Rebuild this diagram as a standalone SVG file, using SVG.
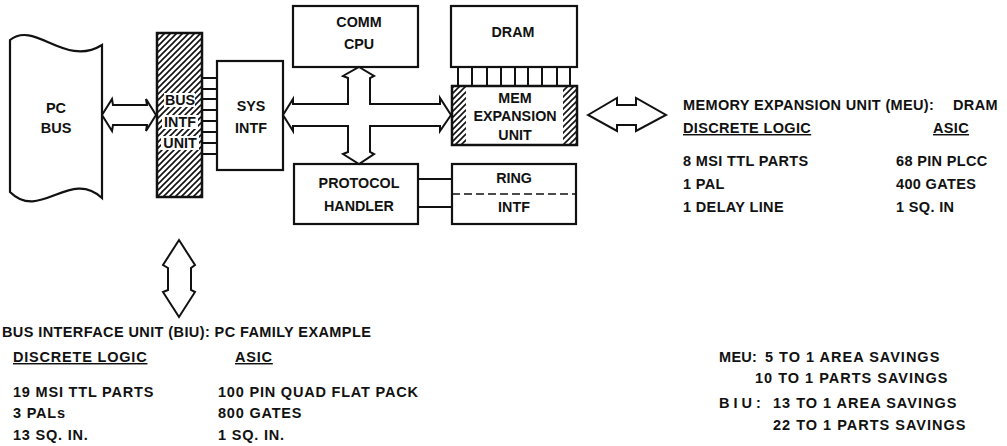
<svg xmlns="http://www.w3.org/2000/svg" width="1007" height="446" viewBox="0 0 1007 446">
<style>
  .t{font-family:"Liberation Sans",Arial,sans-serif;font-weight:bold;font-size:14.5px;fill:#111}
  .c{text-anchor:middle}
  .s{font-size:14.3px}
  .box{fill:#fff;stroke:#111;stroke-width:2.2}
  .ln{stroke:#111;stroke-width:2;fill:none}
  .ar{fill:#fff;stroke:#111;stroke-width:2;stroke-linejoin:miter}
  .u{text-decoration:underline}
  #meu-text text{letter-spacing:0.35px}
  #biu-text text{letter-spacing:0.8px}
  #savings text{letter-spacing:1px}
</style>
<defs>
  <pattern id="hatch" patternUnits="userSpaceOnUse" width="6" height="6">
    <path d="M-1,7 L7,-1 M-2,2 L2,-2 M4,8 L8,4" stroke="#111" stroke-width="1.6"/>
  </pattern>
</defs>
<rect width="1007" height="446" fill="#fff"/>

<g id="pcbus">
  <path class="box" d="M10,40 C35,20 65,68 102,45 L102,198 C70,168 40,222 10,192 Z"/>
  <text class="t c" x="56" y="113">PC</text>
  <text class="t c" x="56" y="133">BUS</text>
</g>

<g id="biu">
  <rect x="157" y="33" width="45" height="164" fill="url(#hatch)" stroke="#111" stroke-width="2.5"/>
  <rect x="164" y="93" width="31" height="14" fill="#fff"/>
  <rect x="162" y="115" width="36" height="14" fill="#fff"/>
  <rect x="161" y="136" width="38" height="14" fill="#fff"/>
  <text class="t c s" x="180" y="105">BUS</text>
  <text class="t c s" x="180" y="127">INTF</text>
  <text class="t c s" x="180" y="148">UNIT</text>
</g>

<g id="sysintf">
  <rect class="box" x="217" y="61" width="66" height="109"/>
  <text class="t c s" x="251" y="111">SYS</text>
  <text class="t c s" x="251" y="133">INTF</text>
</g>

<g id="commcpu">
  <rect class="box" x="293" y="6" width="125" height="61"/>
  <text class="t c s" x="359" y="27">COMM</text>
  <text class="t c s" x="359" y="49">CPU</text>
</g>

<g id="dram">
  <rect class="box" x="451" y="6" width="126" height="61"/>
  <text class="t c s" x="513" y="37">DRAM</text>
</g>

<g id="meu">
  <rect x="452" y="86" width="125" height="59" fill="#fff"/>
  <rect x="452" y="86" width="14" height="59" fill="url(#hatch)"/>
  <rect x="563" y="86" width="14" height="59" fill="url(#hatch)"/>
  <rect x="452" y="86" width="125" height="59" fill="none" stroke="#111" stroke-width="2.5"/>
  <text class="t c s" x="515" y="103">MEM</text>
  <text class="t c s" x="515" y="121">EXPANSION</text>
  <text class="t c s" x="515" y="140">UNIT</text>
</g>

<g id="protocol">
  <rect class="box" x="294" y="164" width="124" height="60"/>
  <text class="t c s" x="359" y="188">PROTOCOL</text>
  <text class="t c s" x="359" y="211">HANDLER</text>
</g>

<g id="ringintf">
  <rect class="box" x="452" y="164" width="124" height="60"/>
  <line x1="452" y1="194" x2="576" y2="194" stroke="#111" stroke-width="1.6" stroke-dasharray="8 4"/>
  <text class="t c s" x="514" y="183">RING</text>
  <text class="t c s" x="514" y="212">INTF</text>
</g>

<g id="connectors">
  <path class="ln" d="M202,78H217M202,89H217M202,99H217M202,110H217M202,121H217M202,132H217M202,143H217M202,154H217"/>
  <path class="ln" d="M458,67V86M472,67V86M487,67V86M501,67V86M515,67V86M528,67V86M542,67V86M557,67V86M570,67V86"/>
  <path class="ln" d="M418,179H452M418,207H452"/>
  <polygon class="ar" points="102,115 112,99 113,105 147,105 146,99 156,115 146,131 147,125 113,125 112,131"/>
  <polygon class="ar" points="359,67 374,76 370,78 370,104 440,104 440,98 451,115 440,131 440,126 370,126 370,152 374,154 359,164 343,154 348,152 348,126 293,126 293,131 283,115 293,99 293,104 348,104 348,78 343,76"/>
  <polygon class="ar" points="588,115 617,98 617,105 636,105 636,98 666,115 636,131 636,125 617,125 617,131"/>
  <polygon class="ar" points="179,240 195,265 191,268 191,290 195,292 179,317 163,292 168,290 168,268 163,265"/>
</g>

<g id="meu-text">
  <text class="t" x="683" y="110">MEMORY EXPANSION UNIT (MEU):</text>
  <text class="t" x="953" y="110">DRAM</text>
  <text class="t u" x="683" y="133">DISCRETE LOGIC</text>
  <text class="t u" x="933" y="133">ASIC</text>
  <text class="t" x="683" y="166">8 MSI TTL PARTS</text>
  <text class="t" x="683" y="189">1 PAL</text>
  <text class="t" x="683" y="212">1 DELAY LINE</text>
  <text class="t" x="896" y="166">68 PIN PLCC</text>
  <text class="t" x="896" y="189">400 GATES</text>
  <text class="t" x="896" y="212">1 SQ. IN</text>
</g>

<g id="biu-text">
  <text class="t" x="2" y="337" style="letter-spacing:0.4px">BUS INTERFACE UNIT (BIU): PC FAMILY EXAMPLE</text>
  <text class="t u" x="13" y="362">DISCRETE LOGIC</text>
  <text class="t u" x="235" y="362">ASIC</text>
  <text class="t" x="13" y="397">19 MSI TTL PARTS</text>
  <text class="t" x="13" y="418">3 PALs</text>
  <text class="t" x="13" y="440">13 SQ. IN.</text>
  <text class="t" x="218" y="397">100 PIN QUAD FLAT PACK</text>
  <text class="t" x="218" y="418">800 GATES</text>
  <text class="t" x="218" y="440">1 SQ. IN.</text>
</g>

<g id="savings">
  <text class="t" x="719" y="362" style="letter-spacing:0.3px">MEU:</text>
  <text class="t" x="765" y="362">5 TO 1 AREA SAVINGS</text>
  <text class="t" x="755" y="383">10 TO 1 PARTS SAVINGS</text>
  <text class="t" x="719" y="408" style="letter-spacing:4px">BIU:</text>
  <text class="t" x="773" y="408">13 TO 1 AREA SAVINGS</text>
  <text class="t" x="773" y="430">22 TO 1 PARTS SAVINGS</text>
</g>
</svg>
